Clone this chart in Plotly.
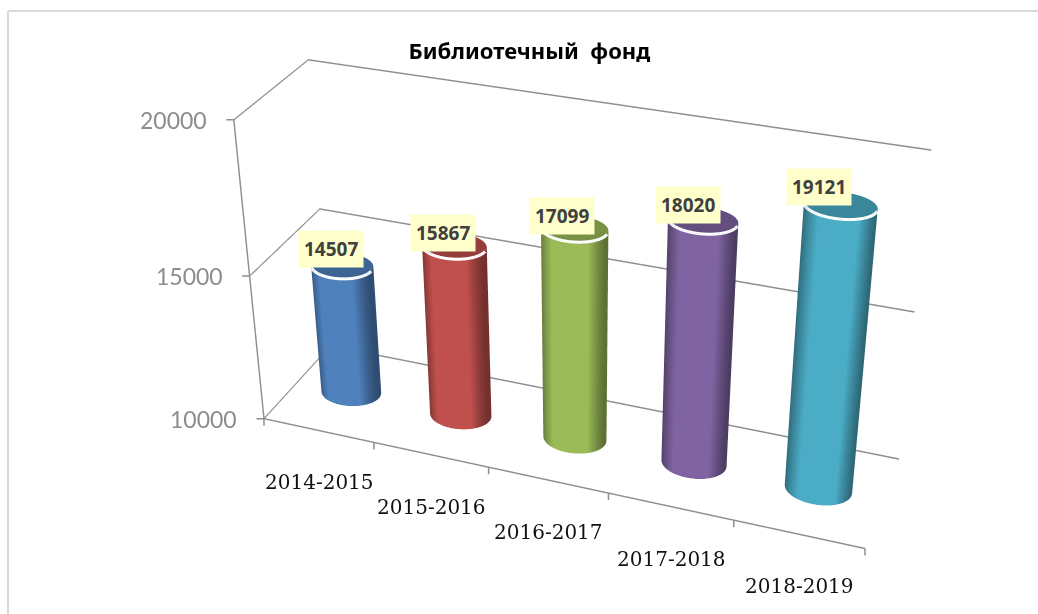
import numpy as np
import plotly.graph_objects as go

categories = ["2014-2015", "2015-2016", "2016-2017", "2017-2018", "2018-2019"]
values = [14507, 15867, 17099, 18020, 19121]
colors = ["#4F81BD", "#C0504D", "#9BBB59", "#8064A2", "#4BACC6"]
z_ticks = [10000, 15000, 20000]

# layout of the value labels relative to the top of each cylinder (pixels)
label_dx = [-11, -11, -13, -15, -22]
label_dy = [17, 13, 13, 15, 18]

# camera
FOCAL_PX = 1880.0
eye = dict(x=1.6043, y=-4.3828, z=2.6783)
center = dict(x=-0.1219, y=-0.1249, z=0)
up = dict(x=0.0085, y=0.0217, z=1)
aspect = dict(x=1.8570, y=0.4549, z=1)

GRID = "#8E8E8E"
rx, ry = 0.26, 0.17
theta = np.linspace(0, 2 * np.pi, 73)
front = np.linspace(np.pi, 2 * np.pi, 40)
nolight = dict(ambient=1, diffuse=0, specular=0, roughness=1, fresnel=0)


def dark(hexc, k=0.6):
    return "#" + "".join(f"{int(int(hexc[i:i+2], 16) * k):02x}" for i in (1, 3, 5))


def shade(hexc):
    return [[0, dark(hexc)], [0.28, hexc], [0.82, hexc], [1, dark(hexc)]]


fig = go.Figure()
for i, (v, c) in enumerate(zip(values, colors)):
    fig.add_trace(go.Surface(
        x=np.outer(i + rx * np.cos(theta), [1, 1]),
        y=np.outer(0.5 + ry * np.sin(theta), [1, 1]),
        z=np.outer(np.ones_like(theta), [z_ticks[0], v]),
        surfacecolor=np.outer((np.cos(theta) + 1) / 2, [1, 1]),
        colorscale=shade(c), cmin=0, cmax=1, showscale=False,
        lighting=nolight, hoverinfo="skip"))
    r = np.array([0, 1.0])
    cap_x = i + rx * np.outer(np.cos(theta), r)
    cap_y = 0.5 + ry * np.outer(np.sin(theta), r)
    cap = dark(c, 0.78)
    fig.add_trace(go.Surface(
        x=cap_x, y=cap_y, z=np.full_like(cap_x, v),
        surfacecolor=np.zeros_like(cap_x), colorscale=[[0, cap], [1, cap]],
        showscale=False, lighting=nolight, hoverinfo="skip"))
    fig.add_trace(go.Scatter3d(
        x=i + rx * np.cos(front), y=0.5 + ry * np.sin(front),
        z=np.full_like(front, v), mode="lines",
        line=dict(color="white", width=6), hoverinfo="skip"))

ann = [dict(x=i, y=0.5, z=v, text=f"<b>{v}</b>", showarrow=False, bgcolor="#FFFFCC",
            font=dict(family="Noto Sans", size=19, color="#404040"),
            xshift=dx, yshift=dy, borderpad=5)
       for i, (v, dx, dy) in enumerate(zip(values, label_dx, label_dy))]
ann += [dict(x=i, y=0, z=z_ticks[0], text=c, showarrow=False,
             font=dict(family="DejaVu Serif", size=20, color="#111111"),
             yshift=-52, xshift=1)
        for i, c in enumerate(categories)]
ann += [dict(x=-0.5, y=0, z=t, text=str(t), showarrow=False, xanchor="right",
             font=dict(family="Lato", size=23, color="#8C8C8C"), xshift=-25)
        for t in z_ticks]
tick_style = dict(text=" ", font=dict(size=1), borderpad=0, showarrow=True, arrowhead=0,
                  arrowwidth=1.5, arrowcolor=GRID, standoff=0, startstandoff=0)
ann += [dict(x=k - 0.5, y=0, z=z_ticks[0], ax=0, ay=8, **tick_style) for k in range(6)]
ann += [dict(x=-0.5, y=0, z=t, ax=-8, ay=0, **tick_style) for t in z_ticks]

fig.update_layout(
    width=1038, height=614, margin=dict(l=0, r=0, t=0, b=0),
    paper_bgcolor="white", showlegend=False,
    title=dict(text="<b>Библиотечный  фонд</b>", x=0.51, xanchor="center", y=0.916,
               yanchor="middle", font=dict(family="Noto Sans", size=22, color="black")),
    scene=dict(
        domain=dict(x=[0, 1], y=[0, 1]), dragmode="orbit",
        aspectmode="manual", aspectratio=aspect, annotations=ann,
        camera=dict(eye=eye, center=center, up=up, projection=dict(type="perspective")),
        xaxis=dict(range=[-0.5, 4.5], tickvals=[], showgrid=False, showline=True,
                   linecolor=GRID, linewidth=3, title="", showbackground=False,
                   zeroline=False, showspikes=False),
        yaxis=dict(range=[0, 1], tickvals=[], showgrid=False, showline=False, title="",
                   showbackground=False, zeroline=False, showspikes=False),
        zaxis=dict(range=[10000, 20000], tickvals=z_ticks, showticklabels=False,
                   gridcolor=GRID, gridwidth=3, showline=True, linecolor=GRID, linewidth=3,
                   title="", showbackground=False, zeroline=False, showspikes=False)))
fig.add_shape(type="line", xref="paper", yref="paper", x0=0.0077, x1=0.0077, y0=0, y1=0.982,
              line=dict(color="#D9D9D9", width=2))
fig.add_shape(type="line", xref="paper", yref="paper", x0=0.0077, x1=1, y0=0.982, y1=0.982,
              line=dict(color="#D9D9D9", width=2))

post = """
document.body.style.margin='0';document.documentElement.style.overflow='hidden';
var gd=document.getElementsByClassName('plotly-graph-div')[0];
var g=gd._fullLayout.scene._scene.glplot;
g.fovy=2*Math.atan(307/%f);
g.redraw();
setTimeout(function(){g.fovy=2*Math.atan(307/%f);g.redraw();},300);
""" % (FOCAL_PX, FOCAL_PX)
fig.write_html("out.html", post_script=post, config={"displayModeBar": False})
